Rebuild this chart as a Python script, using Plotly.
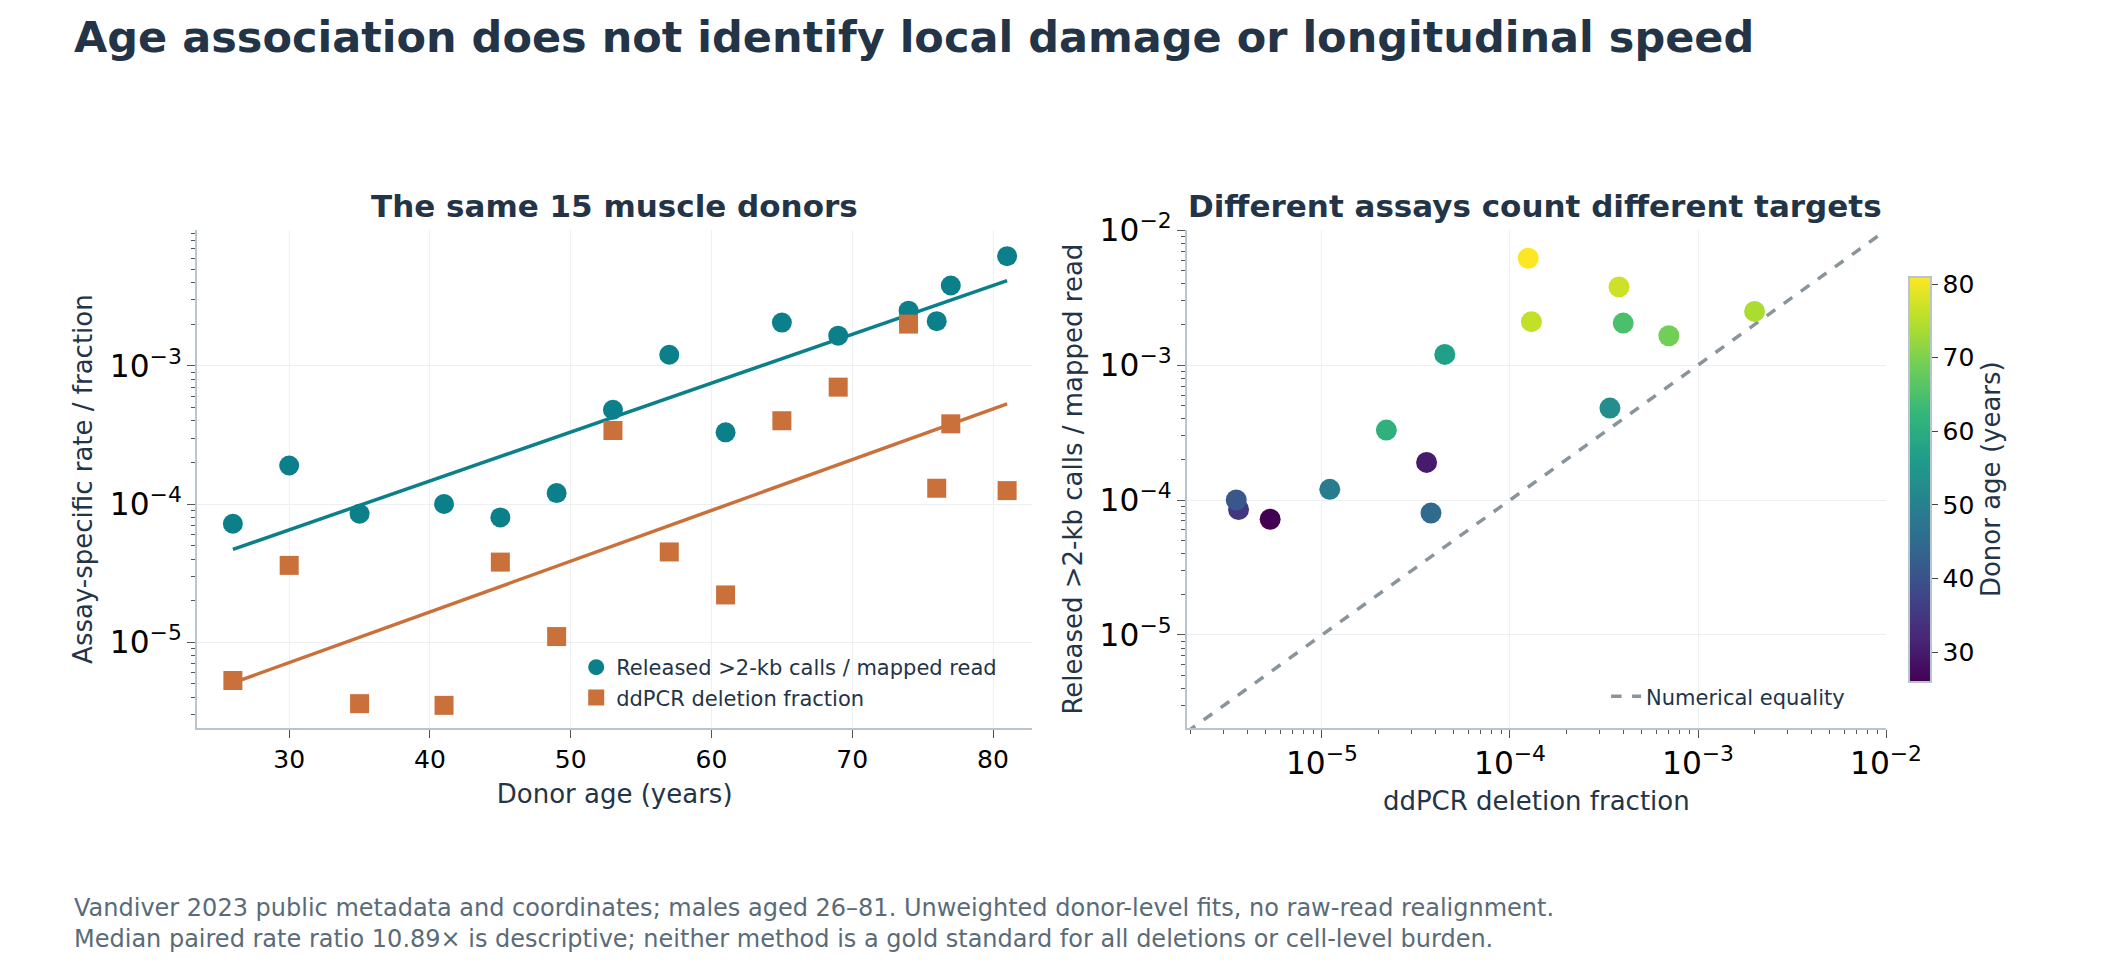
import numpy as np
import plotly.graph_objects as go

# donor-level values
ages = [26, 30, 35, 41, 45, 49, 53, 57, 61, 65, 69, 74, 76, 77, 81]
released = [7.2e-5, 1.9e-4, 8.5e-5, 1.0e-4, 8.0e-5, 1.2e-4, 4.8e-4, 1.2e-3,
            3.3e-4, 2.05e-3, 1.65e-3, 2.5e-3, 2.1e-3, 3.8e-3, 6.2e-3]
ddpcr = [5.3e-6, 3.6e-5, 3.6e-6, 3.5e-6, 3.8e-5, 1.1e-5, 3.4e-4, 4.5e-5,
         2.2e-5, 4.0e-4, 7.0e-4, 2.0e-3, 1.3e-4, 3.8e-4, 1.25e-4]
equality_span = [10 ** -5.72, 1e-2]

TEAL = "#0b7f8a"
ORANGE = "#c9703b"
INK = "#243447"
GRID = "#edf0f2"
SPINE = "#b9c5cd"
FONT = "DejaVu Sans"

a = np.array(ages, dtype=float)

def logfit(vals):
    k, b = np.polyfit(a, np.log10(vals), 1)
    xs = [a.min(), a.max()]
    return xs, [10 ** (k * x + b) for x in xs]

fig = go.Figure()

fx, fy = logfit(released)
fig.add_trace(go.Scatter(x=fx, y=fy, mode="lines", line=dict(color=TEAL, width=3.5),
                         showlegend=False, xaxis="x", yaxis="y"))
fx, fy = logfit(ddpcr)
fig.add_trace(go.Scatter(x=fx, y=fy, mode="lines", line=dict(color=ORANGE, width=3.5),
                         showlegend=False, xaxis="x", yaxis="y"))
fig.add_trace(go.Scatter(x=ages, y=released, mode="markers", name="Released >2-kb calls / mapped read",
                         marker=dict(color=TEAL, size=20, symbol="circle"),
                         xaxis="x", yaxis="y", legend="legend"))
fig.add_trace(go.Scatter(x=ages, y=ddpcr, mode="markers", name="ddPCR deletion fraction",
                         marker=dict(color=ORANGE, size=19, symbol="square"),
                         xaxis="x", yaxis="y", legend="legend"))

fig.add_trace(go.Scatter(x=equality_span, y=equality_span, mode="lines", name="Numerical equality",
                         line=dict(color="#8a949b", width=3.5, dash="dash"),
                         xaxis="x2", yaxis="y2", legend="legend2"))
fig.add_trace(go.Scatter(x=ddpcr, y=released, mode="markers", showlegend=False,
                         marker=dict(color=ages, colorscale="Viridis", cmin=min(ages), cmax=max(ages),
                                     size=21,
                                     colorbar=dict(x=0.905, xanchor="left", y=0.5257, len=0.449,
                                                   thickness=22, outlinecolor=SPINE, outlinewidth=2,
                                                   ticks="outside", ticklen=6, tickvals=[30, 40, 50, 60, 70, 80],
                                                   tickfont=dict(size=25, color="black"),
                                                   title=dict(text="Donor age (years)", side="right",
                                                              font=dict(size=26, color=INK)))),
                         xaxis="x2", yaxis="y2"))

log_common = dict(type="log", dtick=1, exponentformat="power", showgrid=True, gridcolor=GRID,
                  showline=True, linecolor=SPINE, linewidth=2, ticks="outside", ticklen=8,
                  tickcolor="#555", tickfont=dict(size=25, color="black"), zeroline=False,
                  minor=dict(ticks="outside", ticklen=4, tickcolor="#555", showgrid=False))

fig.update_layout(
    width=2125, height=969, margin=dict(l=0, r=0, t=0, b=0),
    paper_bgcolor="white", plot_bgcolor="white",
    font=dict(family=FONT, color=INK),
    xaxis=dict(domain=[0.0904, 0.4904], range=[23.44, 82.8], anchor="y",
               showgrid=True, gridcolor=GRID, showline=True, linecolor=SPINE, linewidth=2,
               ticks="outside", ticklen=8, tickcolor="#555", tickvals=[30, 40, 50, 60, 70, 80],
               tickfont=dict(size=25, color="black"), zeroline=False,
               title=dict(text="Donor age (years)", font=dict(size=26, color=INK), standoff=12)),
    yaxis=dict(domain=[0.2629, 0.7886], range=[-5.62, -2.02], anchor="x",
               title=dict(text="Assay-specific rate / fraction", font=dict(size=26, color=INK), standoff=10),
               **log_common),
    xaxis2=dict(domain=[0.5642, 0.899], range=[-5.72, -2], anchor="y2",
                title=dict(text="ddPCR deletion fraction", font=dict(size=26, color=INK), standoff=12),
                **log_common),
    yaxis2=dict(domain=[0.2629, 0.7886], range=[-5.69, -2], anchor="x2",
                title=dict(text="Released >2-kb calls / mapped read", font=dict(size=26, color=INK), standoff=10),
                **log_common),
    legend=dict(x=0.272, y=0.311, xanchor="left", yanchor="middle", bgcolor="rgba(255,255,255,0)",
                font=dict(size=21, color=INK), tracegroupgap=6),
    legend2=dict(x=0.765, y=0.296, xanchor="left", yanchor="middle", bgcolor="rgba(255,255,255,0)",
                 font=dict(size=21, color=INK)),
)

fig.add_annotation(text="<b>Age association does not identify local damage or longitudinal speed</b>",
                   x=0.0305, y=0.993, xref="paper", yref="paper", xanchor="left", yanchor="middle",
                   showarrow=False, font=dict(size=43, color=INK))
fig.add_annotation(text="<b>The same 15 muscle donors</b>", x=0.2904, y=0.814, xref="paper", yref="paper",
                   xanchor="center", yanchor="middle", showarrow=False, font=dict(size=31, color=INK))
fig.add_annotation(text="<b>Different assays count different targets</b>", x=0.7308, y=0.814,
                   xref="paper", yref="paper", xanchor="center", yanchor="middle", showarrow=False,
                   font=dict(size=31, color=INK))
fig.add_annotation(text="Vandiver 2023 public metadata and coordinates; males aged 26–81. Unweighted donor-level fits, no raw-read realignment.<br>"
                        "Median paired rate ratio 10.89× is descriptive; neither method is a gold standard for all deletions or cell-level burden.",
                   x=0.0305, y=0.056, xref="paper", yref="paper", xanchor="left", yanchor="middle",
                   align="left", showarrow=False, font=dict(size=24, color="#5a6b78"))

fig.write_html("out.html")
